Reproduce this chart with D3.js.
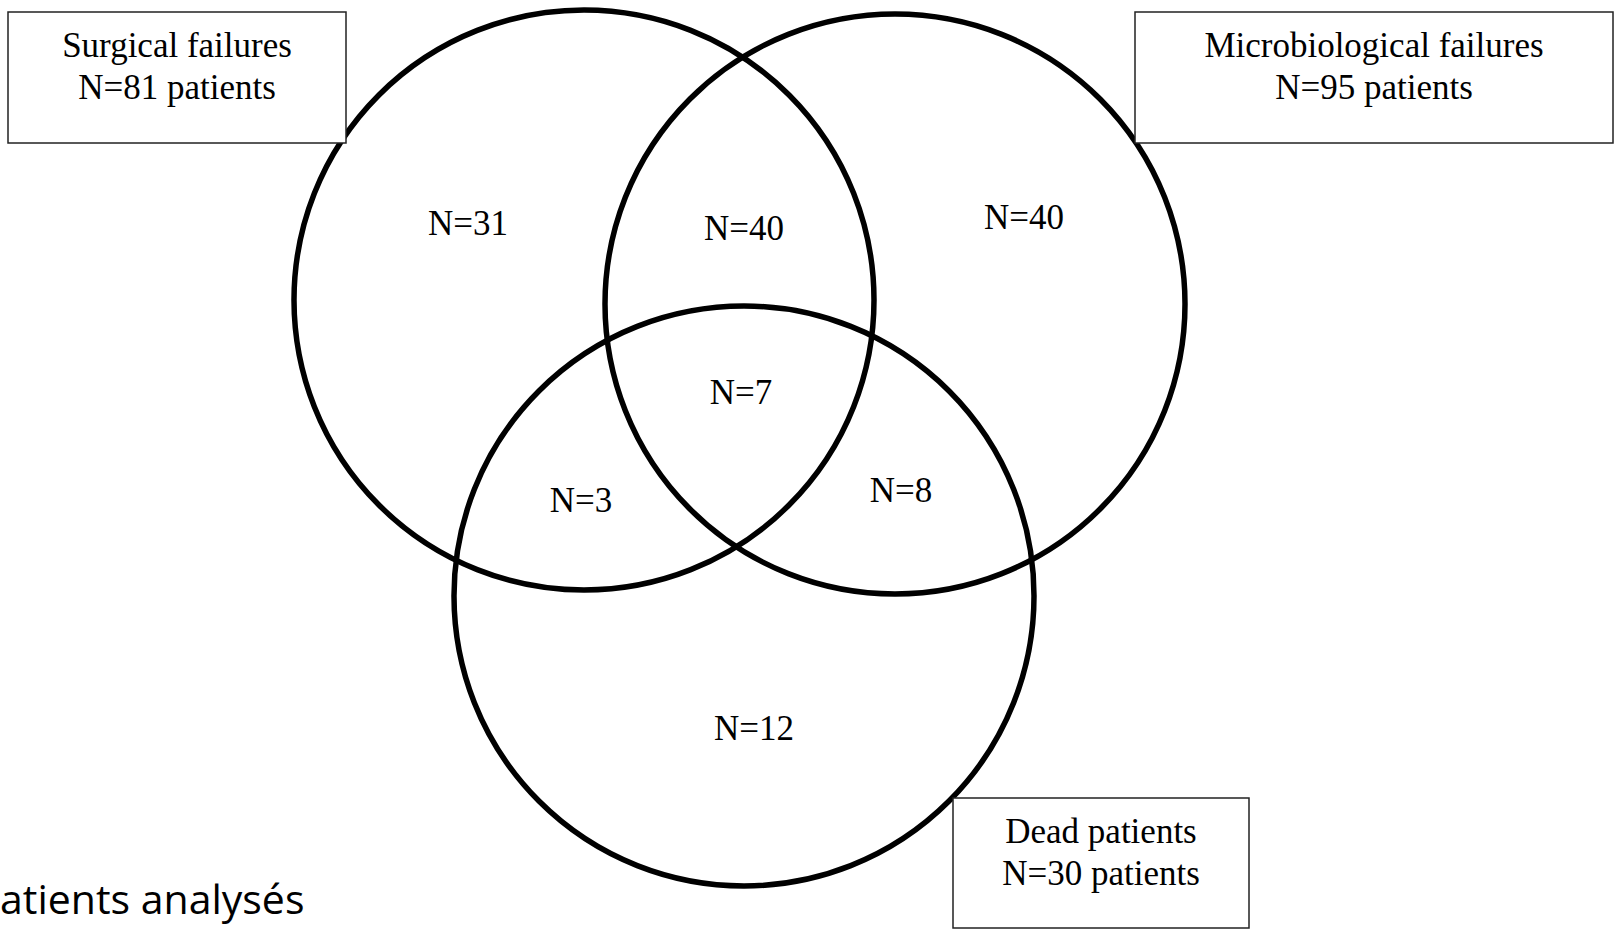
<!DOCTYPE html>
<html>
<head>
<meta charset="utf-8">
<script src="https://cdn.jsdelivr.net/npm/d3@7"></script>
<style>
  body { margin: 0; background: #fff; }
  .boxText, .regionText { font-family: "Liberation Serif", "Times New Roman", serif; fill: #000; }
</style>
</head>
<body>
<div id="venn"></div>
<script>
// Venn data: failures of patients
var setNames = ["Surgical failures", "Microbiological failures", "Dead patients"];
var setTotals = [81, 95, 30];
var regionNames = ["S only", "S+M", "M only", "S+M+D", "S+D", "M+D", "D only"];
var regionCounts = [31, 40, 40, 7, 3, 8, 12];
var footText = "atients analysés";  // cut at the left edge in the original

var svgWidth = 1614;
var svgHeight = 930;

var svg = d3.select("#venn")
  .append("svg")
  .attr("width", svgWidth)
  .attr("height", svgHeight);

// layout space -> pixels
var xScale = d3.scaleLinear().domain([0, 1614]).range([0, svgWidth]);
var yScale = d3.scaleLinear().domain([0, 930]).range([0, svgHeight]);

// circle centres / radius for each set
var circleLayout = [
  { cx: 584, cy: 300, r: 290 },
  { cx: 895, cy: 304, r: 290 },
  { cx: 744, cy: 596, r: 290 }
];

// label boxes for each set
var boxLayout = [
  { x: 8, y: 12, w: 338, h: 131 },
  { x: 1135, y: 12, w: 478, h: 131 },
  { x: 953, y: 798, w: 296, h: 130 }
];

// region label centres
var regionLayout = [
  [468, 223], [744, 228], [1024, 217], [741, 392], [581, 500], [901, 490], [754, 728]
];

// Circles
svg.selectAll("circle.set")
  .data(circleLayout)
  .enter()
  .append("circle")
  .attr("class", "set")
  .attr("cx", d => xScale(d.cx))
  .attr("cy", d => yScale(d.cy))
  .attr("r", d => xScale(d.r))
  .attr("fill", "none")
  .attr("stroke", "#000")
  .attr("stroke-width", 5.5);

// Set boxes
var boxes = svg.selectAll("g.box")
  .data(boxLayout)
  .enter()
  .append("g")
  .attr("class", "box");

boxes.append("rect")
  .attr("x", d => xScale(d.x))
  .attr("y", d => yScale(d.y))
  .attr("width", d => xScale(d.w))
  .attr("height", d => yScale(d.h))
  .attr("fill", "#fff")
  .attr("stroke", "#222")
  .attr("stroke-width", 1.5);

boxes.append("text")
  .attr("class", "boxText")
  .attr("text-anchor", "middle")
  .attr("font-size", 35)
  .attr("x", d => xScale(d.x + d.w / 2))
  .attr("y", d => yScale(d.y + 33))
  .attr("dy", "0.35em")
  .text((d, i) => setNames[i]);

boxes.append("text")
  .attr("class", "boxText")
  .attr("text-anchor", "middle")
  .attr("font-size", 35)
  .attr("x", d => xScale(d.x + d.w / 2))
  .attr("y", d => yScale(d.y + 75))
  .attr("dy", "0.35em")
  .text((d, i) => "N=" + setTotals[i] + " patients");

// Region counts
svg.selectAll("text.regionText")
  .data(regionCounts)
  .enter()
  .append("text")
  .attr("class", "regionText")
  .attr("text-anchor", "middle")
  .attr("font-size", 35)
  .attr("x", (d, i) => xScale(regionLayout[i][0]))
  .attr("y", (d, i) => yScale(regionLayout[i][1]))
  .attr("dy", "0.35em")
  .text(d => "N=" + d);

// footer text
svg.append("text")
  .attr("x", xScale(0))
  .attr("y", yScale(914))
  .attr("text-anchor", "start")
  .attr("font-family", "'Open Sans', sans-serif")
  .attr("font-size", 41)
  .attr("fill", "#000")
  .text(footText);
</script>
</body>
</html>
